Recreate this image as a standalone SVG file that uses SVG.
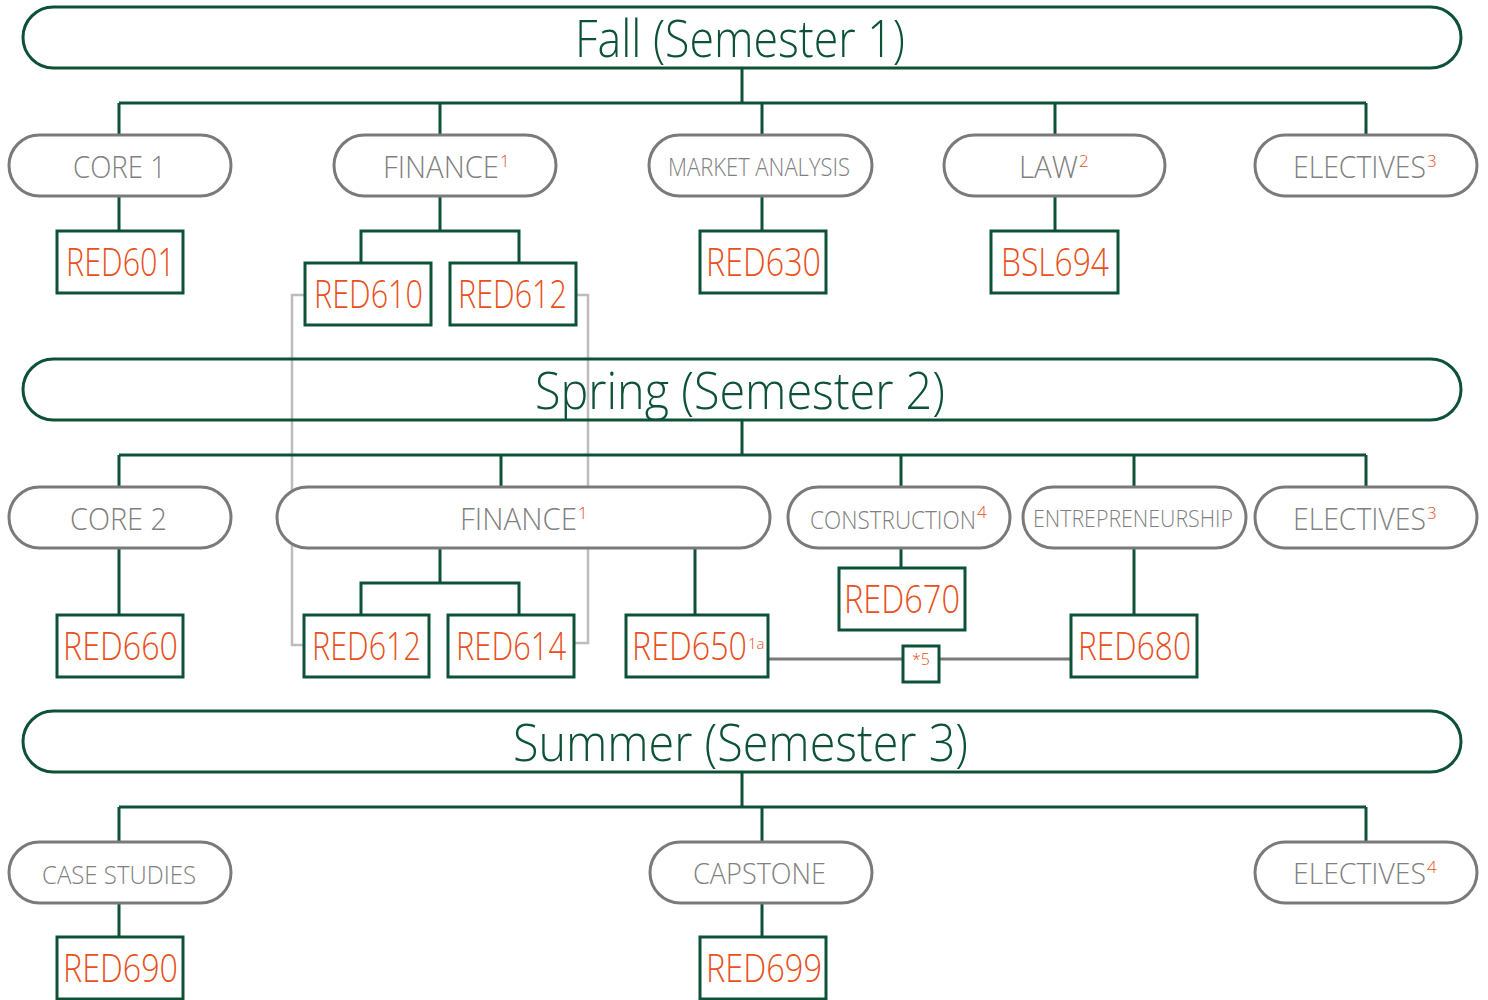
<svg xmlns="http://www.w3.org/2000/svg" width="1488" height="1000" viewBox="0 0 1488 1000">
<style>
.bg{fill:#fff}
.ban{fill:none;stroke:#0d5237;stroke-width:3}
.pill{fill:#fff;stroke:#7a7a7a;stroke-width:3}
.box{fill:#fff;stroke:#0d5237;stroke-width:3}
.g{fill:none;stroke:#0d5237;stroke-width:3}
.lg{fill:none;stroke:#bdbdbd;stroke-width:2.5}
.dg{fill:none;stroke:#7a7a7a;stroke-width:3}
text{font-family:"Open Sans","Segoe UI","DejaVu Sans",sans-serif;font-weight:300}
.tt{fill:#0d5237;font-size:52px}
.pl{fill:#808080;font-size:31px}
.ps{fill:#808080;font-size:26px}
.rd{fill:#e8501c;font-size:38px}
.sp{fill:#e8501c;font-size:17px}
</style>
<rect class="bg" x="0" y="0" width="1488" height="1000"/>
<g id="connectors">
<path class="g" d="M742 68V103M119 103H1366M119 103V135M440 103V135M762 103V135M1055 103V135M1366 103V135"/>
<path class="g" d="M119 196V231M440 196V231M361 263V231H519V263M762 196V231M1055 196V231"/>
<path class="lg" d="M305 295H292V645H304M576 295H588V643H574"/>
<path class="g" d="M742 420V455M119 455H1366M119 455V487M501 455V487M901 455V487M1134 455V487M1366 455V487"/>
<path class="g" d="M119 548V615M440 548V583M361 615V583H519V615M695 548V615M901 548V568M1134 548V615"/>
<path class="dg" d="M768 659H903M939 659H1072"/>
<path class="g" d="M742 772V807M119 807H1366M119 807V842M762 807V842M1366 807V842"/>
<path class="g" d="M119 903V937M762 903V937"/>
</g>
<g id="fall">
<rect class="ban" x="23" y="7" width="1438" height="61" rx="30.5"/>
<text class="tt" x="575" y="57" textLength="330" lengthAdjust="spacingAndGlyphs">Fall (Semester 1)</text>
</g>
<g id="core1"><rect class="pill" x="9" y="135" width="222" height="61" rx="30.5"/><text class="pl" x="73" y="178" textLength="93" lengthAdjust="spacingAndGlyphs">CORE 1</text></g>
<g id="finance-fall"><rect class="pill" x="334" y="135" width="222" height="61" rx="30.5"/><text class="pl" x="383" y="178"><tspan textLength="116" lengthAdjust="spacingAndGlyphs">FINANCE</tspan><tspan class="sp" dx="1" dy="-11">1</tspan></text></g>
<g id="market"><rect class="pill" x="649" y="135" width="223" height="61" rx="30.5"/><text class="ps" x="668" y="176" textLength="182" lengthAdjust="spacingAndGlyphs">MARKET ANALYSIS</text></g>
<g id="law"><rect class="pill" x="944" y="135" width="221" height="61" rx="30.5"/><text class="pl" x="1019" y="178"><tspan textLength="59" lengthAdjust="spacingAndGlyphs">LAW</tspan><tspan class="sp" dx="1" dy="-11">2</tspan></text></g>
<g id="electives-fall"><rect class="pill" x="1255" y="135" width="222" height="61" rx="30.5"/><text class="pl" x="1293" y="178"><tspan textLength="133" lengthAdjust="spacingAndGlyphs">ELECTIVES</tspan><tspan class="sp" dx="1" dy="-11">3</tspan></text></g>
<g id="red601"><rect class="box" x="57" y="231" width="126" height="62"/><text class="rd" x="66" y="276" textLength="109" lengthAdjust="spacingAndGlyphs">RED601</text></g>
<g id="red610"><rect class="box" x="305" y="263" width="126" height="62"/><text class="rd" x="314" y="308" textLength="109" lengthAdjust="spacingAndGlyphs">RED610</text></g>
<g id="red612a"><rect class="box" x="450" y="263" width="126" height="62"/><text class="rd" x="458" y="308" textLength="109" lengthAdjust="spacingAndGlyphs">RED612</text></g>
<g id="red630"><rect class="box" x="700" y="231" width="126" height="62"/><text class="rd" x="706" y="276" textLength="115" lengthAdjust="spacingAndGlyphs">RED630</text></g>
<g id="bsl694"><rect class="box" x="991" y="231" width="127" height="62"/><text class="rd" x="1001" y="276" textLength="108" lengthAdjust="spacingAndGlyphs">BSL694</text></g>
<g id="spring">
<rect class="ban" x="23" y="359" width="1438" height="61" rx="30.5"/>
<text class="tt" x="535" y="409" textLength="410" lengthAdjust="spacingAndGlyphs">Spring (Semester 2)</text>
</g>
<g id="core2"><rect class="pill" x="9" y="487" width="222" height="61" rx="30.5"/><text class="pl" x="70" y="530" textLength="97" lengthAdjust="spacingAndGlyphs">CORE 2</text></g>
<g id="finance-spring"><rect class="pill" x="277" y="487" width="493" height="61" rx="30.5"/><text class="pl" x="460" y="530"><tspan textLength="117" lengthAdjust="spacingAndGlyphs">FINANCE</tspan><tspan class="sp" dx="1" dy="-11">1</tspan></text></g>
<g id="construction"><rect class="pill" x="788" y="487" width="222" height="61" rx="30.5"/><text class="ps" x="810" y="529"><tspan textLength="166" lengthAdjust="spacingAndGlyphs">CONSTRUCTION</tspan><tspan class="sp" dx="1" dy="-11">4</tspan></text></g>
<g id="entrepreneurship"><rect class="pill" x="1023" y="487" width="223" height="61" rx="30.5"/><text class="ps" x="1033" y="527" style="font-size:24px" textLength="200" lengthAdjust="spacingAndGlyphs">ENTREPRENEURSHIP</text></g>
<g id="electives-spring"><rect class="pill" x="1255" y="487" width="222" height="61" rx="30.5"/><text class="pl" x="1293" y="530"><tspan textLength="133" lengthAdjust="spacingAndGlyphs">ELECTIVES</tspan><tspan class="sp" dx="1" dy="-11">3</tspan></text></g>
<g id="red660"><rect class="box" x="57" y="615" width="126" height="62"/><text class="rd" x="63" y="660" textLength="115" lengthAdjust="spacingAndGlyphs">RED660</text></g>
<g id="red612b"><rect class="box" x="304" y="615" width="125" height="62"/><text class="rd" x="312" y="660" textLength="109" lengthAdjust="spacingAndGlyphs">RED612</text></g>
<g id="red614"><rect class="box" x="448" y="615" width="126" height="62"/><text class="rd" x="456" y="660" textLength="110" lengthAdjust="spacingAndGlyphs">RED614</text></g>
<g id="red650"><rect class="box" x="626" y="615" width="142" height="62"/><text class="rd" x="632" y="660"><tspan textLength="115" lengthAdjust="spacingAndGlyphs">RED650</tspan><tspan class="sp" dx="1" dy="-11" style="font-size:15px">1a</tspan></text></g>
<g id="red670"><rect class="box" x="839" y="568" width="126" height="62"/><text class="rd" x="844" y="613" textLength="116" lengthAdjust="spacingAndGlyphs">RED670</text></g>
<g id="note5"><rect class="box" x="903" y="646" width="36" height="36"/><text class="sp" x="921" y="665" text-anchor="middle" style="font-size:16px">*5</text></g>
<g id="red680"><rect class="box" x="1071" y="615" width="126" height="62"/><text class="rd" x="1078" y="660" textLength="113" lengthAdjust="spacingAndGlyphs">RED680</text></g>
<g id="summer">
<rect class="ban" x="23" y="711" width="1438" height="61" rx="30.5"/>
<text class="tt" x="513" y="761" textLength="455" lengthAdjust="spacingAndGlyphs">Summer (Semester 3)</text>
</g>
<g id="case-studies"><rect class="pill" x="9" y="842" width="222" height="61" rx="30.5"/><text class="ps" x="42" y="884" textLength="154" lengthAdjust="spacingAndGlyphs">CASE STUDIES</text></g>
<g id="capstone"><rect class="pill" x="650" y="842" width="222" height="61" rx="30.5"/><text class="pl" x="693" y="884" style="font-size:29px" textLength="133" lengthAdjust="spacingAndGlyphs">CAPSTONE</text></g>
<g id="electives-summer"><rect class="pill" x="1255" y="842" width="222" height="61" rx="30.5"/><text class="pl" x="1293" y="884" style="font-size:29px"><tspan textLength="133" lengthAdjust="spacingAndGlyphs">ELECTIVES</tspan><tspan class="sp" dx="1" dy="-11">4</tspan></text></g>
<g id="red690"><rect class="box" x="57" y="937" width="126" height="62"/><text class="rd" x="63" y="982" textLength="115" lengthAdjust="spacingAndGlyphs">RED690</text></g>
<g id="red699"><rect class="box" x="700" y="937" width="126" height="62"/><text class="rd" x="706" y="982" textLength="116" lengthAdjust="spacingAndGlyphs">RED699</text></g>
</svg>
